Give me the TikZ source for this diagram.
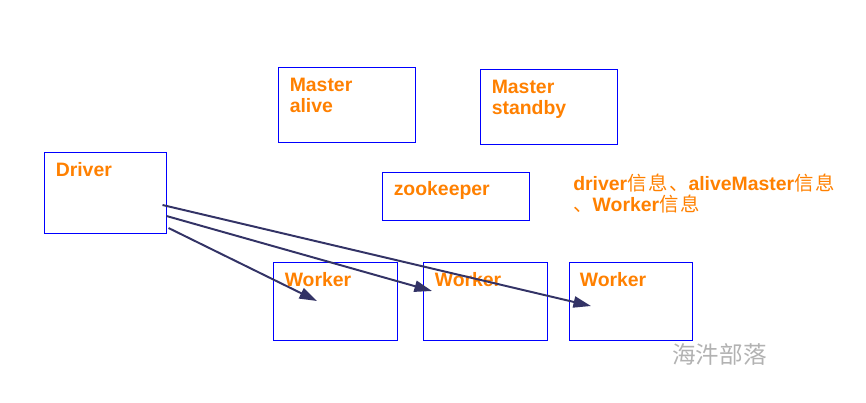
\documentclass[tikz,border=0pt]{standalone}
\usepackage{fontspec}
\setmainfont{Liberation Sans}
\newfontfamily\cjk[LetterSpace=8]{Noto Sans CJK SC}
\newfontfamily\cjkmark{Noto Sans CJK SC}
\usetikzlibrary{positioning, arrows.meta, calc}
\definecolor{boxblue}{HTML}{0000FF}
\definecolor{textorange}{HTML}{FF8000}
\definecolor{arrownavy}{HTML}{333366}
\newcommand{\zh}[1]{{\cjk\mdseries #1}}

\begin{document}
\begin{tikzpicture}[
  x=0.025cm, y=-0.025cm,
  box/.style={
    draw=boxblue, line width=0.7pt, inner sep=0pt,
    minimum width=3.075cm, minimum height=1.95cm
  },
  boxtext/.style={
    text=textorange, inner sep=0pt, align=left,
    font=\bfseries\fontsize{13.8}{14.9}\selectfont
  },
  link/.style={-{Triangle[length=12.5pt, width=8pt]}, line width=1.4pt, draw=arrownavy},
  watermark/.style={text=black!30, inner sep=0pt, font=\cjkmark\fontsize{16.8}{18}\selectfont},
]
\useasboundingbox (0,0) rectangle (866,402);

% Masters on top, zookeeper below them
\node[box, minimum width=3.4cm, minimum height=1.875cm] (alive) at (347,104.5) {};
\node[boxtext, below right=0.29cm and 0.275cm of alive.north west] (alivetext) {Master\\alive};

\node[box, minimum width=3.4cm, minimum height=1.875cm] (standby) at (549,106.5) {};
\node[boxtext, below right=0.29cm and 0.275cm of standby.north west] (standbytext) {Master\\standby};

\node[box, minimum width=3.65cm, minimum height=1.2cm] (zk) at (456,196) {};
\node[boxtext, below right=0.25cm and 0.275cm of zk.north west] (zktext) {zookeeper};

\node[boxtext, anchor=north west] (info) at (573,174)
  {driver\zh{信息、}aliveMaster\zh{信息}\\\zh{、}Worker\zh{信息}};

% Driver on the left, workers in a row
\node[box, minimum width=3.025cm, minimum height=2.025cm] (driver) at (105.5,192.5) {};
\node[boxtext, below right=0.27cm and 0.275cm of driver.north west] (drivertext) {Driver};

\node[box] (w1) at (335.5,301) {};
\node[box] (w2) at (485.5,301) {};
\node[box] (w3) at (630.5,301) {};
\foreach \w in {w1, w2, w3}
  \node[boxtext, below right=0.27cm and 0.275cm of \w.north west] (\w text) {Worker};

\node[watermark] (mark) at (719.5,354.5) {海汼部落};

% Driver talks to every worker
\coordinate (s1) at ($(driver.east)+(2,35.5)$);
\coordinate (s2) at ($(driver.east)+(0,23.5)$);
\coordinate (s3) at ($(driver.east)+(-4,12.5)$);
\coordinate (e1) at ($(w1.center)+(-18.5,0)$);
\coordinate (e2) at ($(w2.center)+(-53.5,-10)$);
\coordinate (e3) at ($(w3.center)+(-39.5,5)$);
\draw[link] (s1) -- (e1);
\draw[link] (s2) -- (e2);
\draw[link] (s3) -- (e3);

\end{tikzpicture}
\end{document}
